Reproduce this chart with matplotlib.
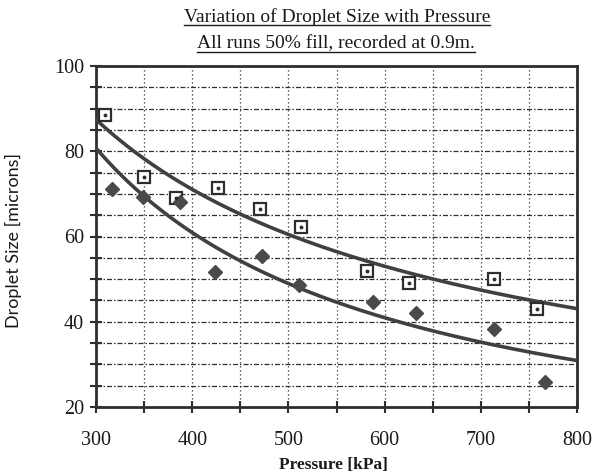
import numpy as np
import matplotlib
matplotlib.use("Agg")
import matplotlib.pyplot as plt
from matplotlib.lines import Line2D

# Measured droplet sizes (microns) against nozzle pressure (kPa)
pressure_sq = [309, 350, 383, 427, 470, 513, 582, 625, 714, 758]
size_sq = [88.5, 74.0, 69.0, 71.3, 66.4, 62.3, 52.0, 49.0, 50.0, 43.0]

pressure_dm = [317, 349, 387, 424, 473, 511, 588, 633, 714, 767]
size_dm = [71.1, 69.2, 68.1, 51.6, 55.5, 48.6, 44.7, 42.0, 38.2, 25.8]

x_ticks = [300, 400, 500, 600, 700, 800]
y_ticks = [20, 40, 60, 80, 100]

title = "Variation of Droplet Size with Pressure"
subtitle = "All runs 50% fill, recorded at 0.9m."

ink = "#2e2e2e"
serif = "Liberation Serif"

fig = plt.figure(figsize=(5.98, 4.74), dpi=100)
ax = fig.add_axes([96 / 598, 1 - 407 / 474, (577 - 96) / 598, (407 - 66) / 474])
ax.set_xlim(300, 800)
ax.set_ylim(20, 100)


def power_fit(x, y):
    b, loga = np.polyfit(np.log(x), np.log(y), 1)
    return np.exp(loga), b


xs = np.linspace(300, 800, 300)
for px, sy in ((pressure_sq, size_sq), (pressure_dm, size_dm)):
    a, b = power_fit(np.array(px, float), np.array(sy, float))
    ax.plot(xs, a * xs ** b, color="#404040", lw=2.6, zorder=3, clip_on=True)

# grid: dotted verticals, dash-dot horizontals
for gx in np.arange(350, 800, 50):
    ax.axvline(gx, color=ink, lw=0.9, ls=(0, (1, 2.2)), zorder=1)
for gy in np.arange(25, 100, 5):
    ax.axhline(gy, color=ink, lw=0.9, ls=(0, (4, 1.6, 1.2, 1.6)), zorder=1)

ax.plot(pressure_sq, size_sq, ls="none", marker="s", ms=8, mfc="white",
        mec=ink, mew=1.6, zorder=4, clip_on=False)
ax.plot(pressure_sq, size_sq, ls="none", marker="o", ms=1.8, mfc=ink,
        mec=ink, zorder=5, clip_on=False)
ax.plot(pressure_dm, size_dm, ls="none", marker="D", ms=7.5, mfc="#4a4a4a",
        mec="#4a4a4a", zorder=4, clip_on=False)

for s in ax.spines.values():
    s.set_linewidth(2.0)
    s.set_color(ink)

ax.set_xticks(np.arange(300, 801, 50))
ax.set_xticklabels([str(v) if v in x_ticks else "" for v in np.arange(300, 801, 50)])
ax.set_yticks(np.arange(20, 101, 5))
ax.set_yticklabels([str(v) if v in y_ticks else "" for v in np.arange(20, 101, 5)])
ax.tick_params(axis="both", direction="inout", length=9, width=1.5, color=ink,
               labelsize=14.5, labelcolor="#1a1a1a")
ax.tick_params(axis="x", pad=13)
ax.tick_params(axis="y", pad=4)
for lab in ax.get_xticklabels() + ax.get_yticklabels():
    lab.set_fontfamily(serif)

fig.text(13 / 598, 1 - 240 / 474, "Droplet Size [microns]", rotation=90,
         ha="center", va="center", fontsize=13, family="Lato", color="#1a1a1a")
fig.text(333 / 598, 1 - 465 / 474, "Pressure [kPa]", ha="center", va="center",
         fontsize=12.5, family=serif, fontweight="bold", color="#1a1a1a")

t1 = fig.text(337 / 598, 1 - 17 / 474, title, ha="center", va="center",
              fontsize=14, family=serif, color="#1a1a1a")
t2 = fig.text(336 / 598, 1 - 44 / 474, subtitle, ha="center", va="center",
              fontsize=14, family=serif, color="#1a1a1a")

# underline both heading lines
fig.canvas.draw()
inv = fig.transFigure.inverted()
for t in (t1, t2):
    bb = t.get_window_extent().transformed(inv)
    yline = bb.y0 + 0.002
    fig.add_artist(Line2D([bb.x0, bb.x1], [yline, yline], transform=fig.transFigure,
                          color="#1a1a1a", lw=1.0))

fig.savefig("out.png", dpi=100)
